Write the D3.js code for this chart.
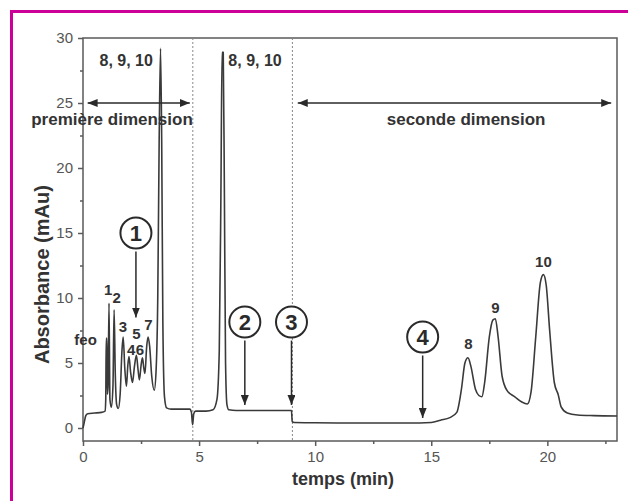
<!DOCTYPE html>
<html>
<head>
<meta charset="utf-8">
<script src="https://cdn.jsdelivr.net/npm/d3@7"></script>
<style>
  body { margin: 0; background: #fff; }
  svg { display: block; font-family: "Liberation Sans", Arial, sans-serif; }
</style>
</head>
<body>
<div id="chart"></div>
<script>
// chromatogram trace: [time (min), absorbance (mAu)]
const trace = [
  [0, 0.0], [0.05, 0.4], [0.12, 0.95], [0.2, 1.1], [0.5, 1.15], [0.8, 1.2], [0.95, 1.3],
  [0.98, 2.2], [1.0, 6.9], [1.03, 6.9], [1.05, 2.6], [1.08, 3.2], [1.12, 9.6], [1.16, 2.2],
  [1.22, 1.6], [1.29, 3.2], [1.34, 9.1], [1.39, 4.2], [1.45, 1.8], [1.52, 1.5], [1.6, 2.6],
  [1.68, 6.0], [1.73, 7.0], [1.8, 4.6], [1.87, 3.2], [1.93, 4.8], [1.98, 5.5], [2.05, 4.3],
  [2.13, 3.5], [2.22, 4.8], [2.3, 5.6], [2.37, 4.5], [2.43, 3.7], [2.5, 4.8], [2.56, 5.4],
  [2.62, 4.6], [2.67, 4.2], [2.74, 6.2], [2.8, 7.0], [2.87, 6.3], [2.96, 4.0], [3.07, 2.9],
  [3.15, 4.5], [3.22, 10], [3.28, 22], [3.34, 29.2], [3.39, 22], [3.44, 8], [3.51, 2.4],
  [3.6, 1.55], [3.8, 1.45], [4.3, 1.45], [4.6, 1.45], [4.67, 1.2], [4.72, 0.25], [4.77, 1.1],
  [4.85, 1.3], [5.3, 1.3], [5.6, 1.4], [5.77, 2.2], [5.87, 6], [5.94, 18], [5.99, 28.9],
  [6.04, 28.9], [6.09, 18], [6.14, 5], [6.2, 1.8], [6.28, 1.4], [6.6, 1.35], [8.0, 1.35],
  [8.98, 1.35], [9.01, 0.5], [9.1, 0.42], [10, 0.4], [12, 0.38], [14, 0.38], [15, 0.42],
  [15.4, 0.6], [15.8, 0.8], [16.1, 1.2], [16.3, 3.0], [16.45, 5.0], [16.58, 5.4], [16.7, 4.8],
  [16.9, 3.0], [17.05, 2.5], [17.18, 2.4], [17.3, 3.5], [17.5, 7.0], [17.65, 8.3], [17.76, 8.4],
  [17.88, 7.0], [18.05, 4.0], [18.26, 2.9], [18.6, 2.4], [18.9, 2.0], [19.14, 1.85], [19.3, 2.8],
  [19.5, 7.0], [19.7, 11.2], [19.83, 11.8], [19.95, 11.0], [20.1, 7.5], [20.3, 3.5], [20.47, 2.55],
  [20.6, 1.6], [20.86, 1.15], [21.3, 1.0], [22, 0.95], [23, 0.92]
];

const xTicks = [0, 5, 10, 15, 20];
const xMinorTicks = [2.5, 7.5, 12.5, 17.5, 22.5];
const yTicks = [0, 5, 10, 15, 20, 25, 30];
const yMinorTicks = [2.5, 7.5, 12.5, 17.5, 22.5, 27.5];
const cutTimes = [4.73, 9.02];

// peak labels: text, time, absorbance at the text baseline
const peakLabels = [
  ["feo", 0.11, 6.4], ["1", 1.08, 10.2], ["2", 1.45, 9.6], ["3", 1.72, 7.4],
  ["5", 2.3, 6.85], ["4", 2.07, 5.6], ["6", 2.45, 5.6], ["7", 2.82, 7.55],
  ["8", 16.6, 6.1], ["9", 17.76, 8.85], ["10", 19.83, 12.4]
];
const groupLabels = [["8, 9, 10", 1.86, 27.85], ["8, 9, 10", 7.41, 27.85]];

// dimension arrows: label, start, end, level, label time, label level
const dimensions = [
  ["première dimension", 0.2, 4.6, 25, 1.25, 23.3],
  ["seconde dimension", 9.25, 22.75, 25, 16.5, 23.3]
];

// numbered markers: number, time, circle level, arrow tip level
const markers = [
  ["1", 2.28, 15.0, 8.5],
  ["2", 6.97, 8.15, 1.77],
  ["3", 8.98, 8.15, 1.77],
  ["4", 14.63, 7.0, 0.77]
];

const W = 628, H = 501;
const margin = { top: 38, right: 11, bottom: 60, left: 83 };

const svg = d3.select("#chart").append("svg")
  .attr("width", W)
  .attr("height", H);

svg.append("rect").attr("width", W).attr("height", H).attr("fill", "#fff");

// magenta frame (right / bottom edges run off the picture)
svg.append("rect")
  .attr("x", 11.5).attr("y", 11.5)
  .attr("width", W + 20).attr("height", H + 20)
  .attr("fill", "none")
  .attr("stroke", "#cc0099")
  .attr("stroke-width", 3);

const x = d3.scaleLinear().domain([0, 23]).range([margin.left, W - margin.right]);
const y = d3.scaleLinear().domain([-1, 30]).range([H - margin.bottom, margin.top]);

const axisColor = "#5a5a5a";
const inkColor = "#333";

const defs = svg.append("defs");
defs.append("marker")
  .attr("id", "head")
  .attr("viewBox", "0 0 10 8")
  .attr("refX", 10).attr("refY", 4)
  .attr("markerWidth", 10).attr("markerHeight", 8)
  .attr("markerUnits", "userSpaceOnUse")
  .attr("orient", "auto-start-reverse")
  .append("path")
    .attr("d", "M0,0 L10,4 L0,8 Z")
    .attr("fill", "#2a2a2a");

// box
svg.append("rect")
  .attr("x", x(0)).attr("y", y(30))
  .attr("width", x(23) - x(0)).attr("height", y(-1) - y(30))
  .attr("fill", "none")
  .attr("stroke", axisColor)
  .attr("stroke-width", 1.5);

// dotted cut lines
svg.append("g")
  .selectAll("line")
  .data(cutTimes)
  .join("line")
    .attr("x1", d => x(d)).attr("x2", d => x(d))
    .attr("y1", y(30)).attr("y2", y(-1))
    .attr("stroke", "#888")
    .attr("stroke-width", 1)
    .attr("stroke-dasharray", "2,2");

// axes
const xAxis = svg.append("g")
  .attr("transform", `translate(0,${y(-1)})`)
  .call(d3.axisBottom(x).tickValues(xTicks).tickSize(5).tickPadding(5).tickSizeOuter(0));
const xMinor = svg.append("g")
  .attr("transform", `translate(0,${y(-1)})`)
  .call(d3.axisBottom(x).tickValues(xMinorTicks).tickSize(3).tickFormat("").tickSizeOuter(0));
const yAxis = svg.append("g")
  .attr("transform", `translate(${x(0)},0)`)
  .call(d3.axisLeft(y).tickValues(yTicks).tickSize(5).tickPadding(5).tickSizeOuter(0));
const yMinor = svg.append("g")
  .attr("transform", `translate(${x(0)},0)`)
  .call(d3.axisLeft(y).tickValues(yMinorTicks).tickSize(3).tickFormat("").tickSizeOuter(0));

[xAxis, xMinor, yAxis, yMinor].forEach(g => {
  g.select(".domain").remove();
  g.selectAll("line").attr("stroke", axisColor).attr("stroke-width", 1.5);
  g.selectAll("text")
    .attr("fill", "#555")
    .style("font-size", "15px")
    .style("font-family", "'Liberation Sans', Arial, sans-serif");
});

// axis titles
svg.append("text")
  .attr("x", x(11.2))
  .attr("y", 485)
  .attr("text-anchor", "middle")
  .attr("fill", inkColor)
  .style("font-size", "18px")
  .style("font-weight", "bold")
  .text("temps (min)");

svg.append("text")
  .attr("transform", `translate(49,${y(11.8)}) rotate(-90)`)
  .attr("text-anchor", "middle")
  .attr("fill", inkColor)
  .style("font-size", "20px")
  .style("font-weight", "bold")
  .text("Absorbance (mAu)");

// trace
const line = d3.line()
  .x(d => x(d[0]))
  .y(d => y(d[1]))
  .curve(d3.curveMonotoneX);

svg.append("path")
  .datum(trace)
  .attr("d", line)
  .attr("fill", "none")
  .attr("stroke", "#3a3a3a")
  .attr("stroke-width", 1.6)
  .attr("stroke-linejoin", "round");

// dimension arrows
const dim = svg.append("g").selectAll("g").data(dimensions).join("g");
dim.append("line")
  .attr("x1", d => x(d[1])).attr("x2", d => x(d[2]))
  .attr("y1", d => y(d[3])).attr("y2", d => y(d[3]))
  .attr("stroke", "#2a2a2a")
  .attr("stroke-width", 1.5)
  .attr("marker-start", "url(#head)")
  .attr("marker-end", "url(#head)");
dim.append("text")
  .attr("x", d => x(d[4])).attr("y", d => y(d[5]))
  .attr("text-anchor", "middle")
  .attr("fill", inkColor)
  .style("font-size", "17px")
  .style("font-weight", "bold")
  .text(d => d[0]);

// peak labels
svg.append("g")
  .selectAll("text")
  .data(peakLabels)
  .join("text")
    .attr("x", d => x(d[1])).attr("y", d => y(d[2]))
    .attr("text-anchor", "middle")
    .attr("fill", inkColor)
    .style("font-size", "15px")
    .style("font-weight", "bold")
    .text(d => d[0]);

svg.append("g")
  .selectAll("text")
  .data(groupLabels)
  .join("text")
    .attr("x", d => x(d[1])).attr("y", d => y(d[2]))
    .attr("text-anchor", "middle")
    .attr("fill", inkColor)
    .style("font-size", "16px")
    .style("font-weight", "bold")
    .text(d => d[0]);

// numbered markers with arrows
const r = 15.5;
const mk = svg.append("g").selectAll("g").data(markers).join("g");
mk.append("circle")
  .attr("cx", d => x(d[1])).attr("cy", d => y(d[2]))
  .attr("r", r)
  .attr("fill", "#fff")
  .attr("stroke", "#2a2a2a")
  .attr("stroke-width", 2);
mk.append("text")
  .attr("x", d => x(d[1])).attr("y", d => y(d[2]) + 8)
  .attr("text-anchor", "middle")
  .attr("fill", "#2a2a2a")
  .style("font-size", "22px")
  .style("font-weight", "bold")
  .text(d => d[0]);
mk.append("line")
  .attr("x1", d => x(d[1])).attr("x2", d => x(d[1]))
  .attr("y1", d => y(d[2]) + r + 3).attr("y2", d => y(d[3]))
  .attr("stroke", "#2a2a2a")
  .attr("stroke-width", 1.5)
  .attr("marker-end", "url(#head)");
</script>
</body>
</html>
